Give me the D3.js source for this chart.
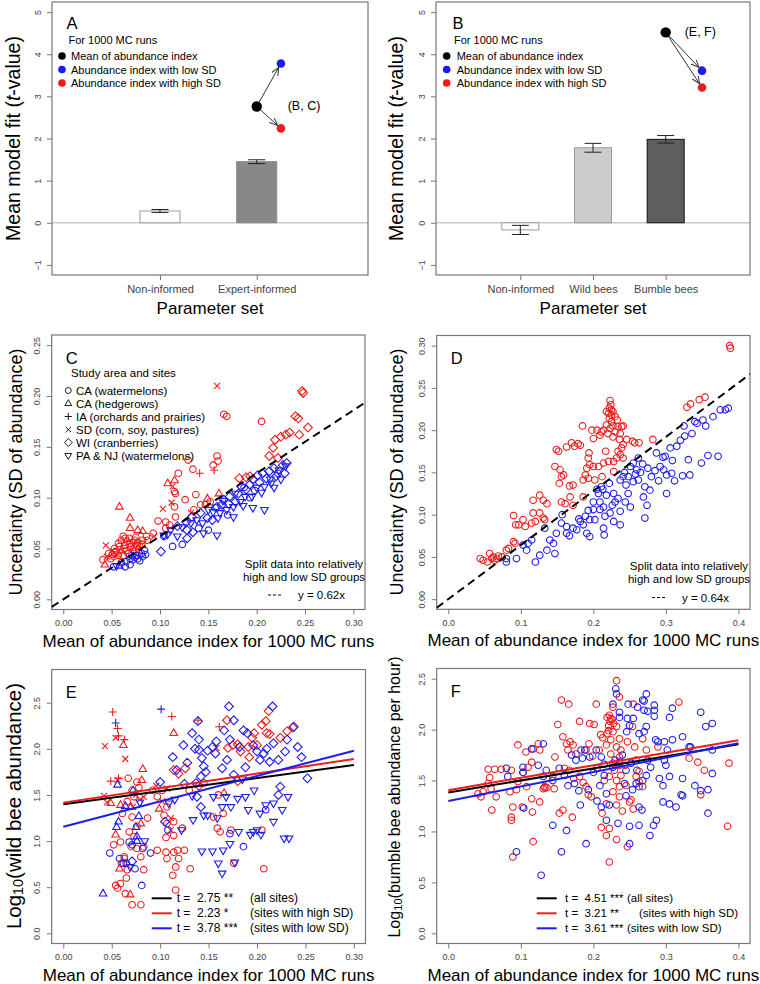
<!DOCTYPE html>
<html>
<head>
<meta charset="utf-8">
<script src="https://cdn.jsdelivr.net/npm/d3@7"></script>
<style>
  body { margin: 0; background: #fff; }
  svg { display: block; font-family: "Liberation Sans", Arial, sans-serif; }
</style>
</head>
<body>
<svg id="fig" width="760" height="984"></svg>
<script>
// ---- panel A / B : bar charts ----
const barsA = ['Non-informed', 'Expert-informed'];
const barMeanA = [0.28, 1.45];
const barErrA = [0.035, 0.045];
const barFillA = ['#ffffff', '#888888'];
const barsB = ['Non-informed', 'Wild bees', 'Bumble bees'];
const barMeanB = [-0.17, 1.78, 1.98];
const barErrB = [0.108, 0.105, 0.09];
const barFillB = ['#ffffff', '#cccccc', '#5e5e5e'];
// t-values: mean, low SD, high SD ; position in category steps
const tValA = [2.76, 3.78, 2.24];
const tPosA = [1, 1.25, 1.25];
const tValB = [4.52, 3.61, 3.21];
const tPosB = [2, 2.5, 2.5];
const legendAB = ['Mean of abundance index', 'Abundance index with low SD', 'Abundance index with high SD'];

// ---- panel C : wild bees, SD vs mean (x, y, symbol) ----
const cHigh = [
[0.159,0.210,'x'],[0.247,0.205,'d'],[0.248,0.203,'d'],[0.166,0.182,'o'],[0.169,0.180,'o'],[0.205,0.175,'o'],
[0.240,0.180,'d'],[0.243,0.178,'d'],[0.253,0.169,'d'],[0.244,0.162,'d'],[0.234,0.164,'d'],[0.230,0.162,'d'],
[0.225,0.160,'d'],[0.219,0.157,'d'],[0.217,0.149,'d'],[0.213,0.141,'d'],[0.222,0.139,'d'],[0.182,0.119,'d'],
[0.189,0.120,'d'],[0.193,0.121,'d'],[0.159,0.141,'o'],[0.160,0.136,'o'],[0.155,0.132,'o'],[0.129,0.137,'o'],
[0.134,0.128,'o'],[0.141,0.124,'p'],[0.156,0.127,'p'],[0.119,0.124,'o'],[0.108,0.114,'t'],[0.115,0.117,'t'],
[0.113,0.111,'x'],[0.115,0.106,'o'],[0.116,0.104,'o'],[0.112,0.095,'x'],[0.103,0.089,'x'],[0.137,0.103,'o'],
[0.126,0.098,'o'],[0.115,0.091,'o'],[0.116,0.081,'o'],[0.098,0.077,'o'],[0.106,0.076,'o'],[0.110,0.073,'o'],
[0.106,0.070,'o'],[0.058,0.091,'t'],[0.069,0.080,'t'],[0.069,0.070,'t'],[0.077,0.068,'t'],[0.082,0.067,'t'],
[0.062,0.062,'o'],[0.064,0.060,'o'],[0.074,0.058,'o'],[0.044,0.053,'x'],[0.093,0.065,'o'],[0.087,0.058,'o'],
[0.094,0.062,'x'],[0.142,0.093,'o'],[0.147,0.093,'o'],[0.149,0.099,'t'],[0.161,0.104,'t'],[0.152,0.096,'o'],
[0.135,0.088,'o'],[0.132,0.085,'x'],[0.082,0.058,'o'],[0.086,0.062,'o'],
[0.047,0.045,'o'],[0.050,0.048,'x'],[0.053,0.050,'o'],[0.055,0.047,'o'],[0.058,0.052,'o'],[0.060,0.048,'t'],
[0.064,0.053,'o'],[0.065,0.048,'o'],[0.069,0.055,'o'],[0.070,0.052,'o'],[0.072,0.056,'o'],[0.074,0.048,'o'],
[0.076,0.053,'o'],[0.077,0.056,'o'],[0.079,0.052,'o'],[0.081,0.054,'o'],[0.041,0.039,'o'],[0.043,0.034,'t'],
[0.045,0.042,'x'],[0.052,0.042,'o'],[0.057,0.043,'o'],[0.067,0.045,'o'],[0.062,0.043,'o'],[0.049,0.040,'o'],
[0.055,0.044,'x'],[0.060,0.058,'o'],[0.068,0.060,'o'],[0.072,0.050,'t'],[0.078,0.049,'o'],[0.063,0.050,'o'],
[0.057,0.055,'o'],[0.075,0.061,'o'],[0.066,0.057,'o'],[0.051,0.044,'o'],[0.053,0.046,'o']
];
const cLow = [
[0.052,0.032,'o'],[0.055,0.033,'v'],[0.060,0.036,'o'],[0.065,0.037,'o'],[0.069,0.040,'o'],[0.072,0.039,'o'],
[0.076,0.043,'o'],[0.077,0.040,'o'],[0.081,0.045,'o'],[0.082,0.042,'o'],[0.084,0.048,'o'],[0.074,0.041,'o'],
[0.069,0.034,'o'],[0.064,0.032,'o'],[0.058,0.033,'t'],[0.079,0.038,'o'],[0.085,0.044,'o'],[0.071,0.043,'o'],
[0.101,0.047,'d'],[0.104,0.062,'o'],[0.113,0.052,'o'],[0.123,0.054,'o'],[0.104,0.063,'v'],[0.108,0.064,'v'],
[0.111,0.068,'v'],[0.118,0.072,'d'],[0.123,0.071,'v'],[0.127,0.076,'d'],[0.128,0.068,'d'],[0.132,0.075,'v'],
[0.133,0.081,'d'],[0.138,0.078,'v'],[0.142,0.085,'d'],[0.144,0.075,'v'],[0.149,0.080,'d'],[0.150,0.088,'v'],
[0.154,0.078,'d'],[0.155,0.086,'v'],[0.159,0.091,'d'],[0.162,0.085,'v'],[0.164,0.093,'d'],[0.166,0.098,'d'],
[0.169,0.088,'v'],[0.171,0.094,'d'],[0.172,0.101,'d'],[0.176,0.091,'v'],[0.178,0.096,'d'],[0.181,0.104,'d'],
[0.183,0.096,'v'],[0.184,0.111,'d'],[0.188,0.101,'v'],[0.189,0.108,'d'],[0.193,0.113,'d'],[0.195,0.101,'v'],
[0.196,0.118,'d'],[0.200,0.110,'v'],[0.201,0.122,'d'],[0.203,0.115,'d'],[0.206,0.124,'d'],[0.208,0.111,'v'],
[0.210,0.119,'d'],[0.213,0.126,'d'],[0.215,0.114,'v'],[0.218,0.129,'d'],[0.220,0.121,'d'],[0.223,0.127,'v'],
[0.227,0.132,'d'],[0.229,0.124,'d'],[0.230,0.131,'v'],[0.231,0.134,'d'],[0.159,0.063,'v'],[0.196,0.090,'v'],
[0.208,0.088,'v'],[0.176,0.081,'v'],[0.145,0.065,'v'],[0.150,0.068,'o'],[0.160,0.080,'v'],[0.170,0.083,'o'],
[0.186,0.092,'v'],[0.193,0.100,'o'],[0.214,0.118,'v'],[0.225,0.118,'v'],[0.218,0.110,'v'],[0.140,0.070,'o'],
[0.134,0.066,'d'],[0.128,0.060,'d'],[0.118,0.062,'v'],[0.198,0.107,'o'],[0.205,0.105,'v'],[0.222,0.124,'o'],
[0.187,0.110,'o'],[0.178,0.104,'v'],[0.165,0.097,'v'],[0.157,0.090,'o']
];
const siteLabels = ['CA (watermelons)', 'CA (hedgerows)', 'IA (orchards and prairies)', 'SD (corn, soy, pastures)', 'WI (cranberries)', 'PA & NJ (watermelons)'];
const siteSymbols = ['o', 't', 'p', 'x', 'd', 'v'];

// ---- panel D : bumble bees, SD vs mean ----
const dHigh = [
[0.388,0.300],[0.389,0.297],[0.354,0.239],[0.346,0.236],[0.334,0.231],[0.329,0.227],[0.282,0.189],
[0.223,0.235],[0.224,0.230],[0.222,0.226],[0.225,0.224],[0.218,0.222],[0.227,0.222],[0.221,0.220],
[0.225,0.218],[0.230,0.216],[0.222,0.214],[0.233,0.212],[0.225,0.210],[0.218,0.206],[0.227,0.205],
[0.234,0.204],[0.239,0.204],[0.241,0.205],[0.223,0.202],[0.214,0.200],[0.230,0.198],[0.211,0.198],
[0.220,0.196],[0.237,0.196],[0.209,0.194],[0.227,0.192],[0.200,0.190],[0.205,0.200],[0.198,0.200],
[0.185,0.205],[0.236,0.189],[0.246,0.189],[0.254,0.187],[0.257,0.185],[0.263,0.185],[0.241,0.183],
[0.239,0.179],[0.234,0.175],[0.237,0.171],[0.232,0.167],[0.241,0.167],[0.228,0.163],[0.221,0.163],
[0.214,0.161],[0.207,0.157],[0.200,0.157],[0.195,0.159],[0.193,0.167],[0.194,0.173],[0.191,0.155],
[0.189,0.147],[0.193,0.143],[0.186,0.141],[0.202,0.141],[0.212,0.145],[0.228,0.151],[0.217,0.175],
[0.170,0.185],[0.174,0.181],[0.163,0.180],[0.179,0.184],[0.182,0.182],[0.149,0.177],[0.152,0.175],
[0.147,0.157],[0.154,0.153],[0.159,0.147],[0.156,0.145],[0.153,0.137],[0.167,0.134],[0.172,0.135],
[0.168,0.121],[0.186,0.121],[0.156,0.115],[0.161,0.113],[0.172,0.111],[0.126,0.123],[0.117,0.117],
[0.131,0.117],[0.136,0.113],[0.126,0.102],[0.117,0.102],[0.131,0.096],[0.120,0.092],[0.133,0.094],
[0.115,0.090],[0.090,0.099],[0.097,0.088],[0.093,0.088],[0.106,0.086],[0.103,0.094],[0.090,0.068],
[0.092,0.066],[0.083,0.060],[0.080,0.058],[0.048,0.046],[0.044,0.048],[0.057,0.054],[0.062,0.050],
[0.064,0.046],[0.054,0.044],[0.067,0.048],[0.069,0.051],[0.074,0.050],[0.060,0.048]
];
const dLow = [
[0.386,0.226],[0.382,0.224],[0.375,0.224],[0.365,0.216],[0.351,0.212],[0.343,0.208],[0.336,0.196],
[0.326,0.193],[0.320,0.188],[0.315,0.181],[0.306,0.179],[0.372,0.169],[0.331,0.165],[0.349,0.161],
[0.333,0.147],[0.308,0.149],[0.301,0.147],[0.297,0.153],[0.292,0.157],[0.299,0.169],[0.287,0.173],
[0.301,0.125],[0.278,0.129],[0.271,0.133],[0.269,0.121],[0.271,0.096],[0.274,0.111],[0.262,0.141],
[0.260,0.153],[0.255,0.161],[0.262,0.167],[0.251,0.157],[0.248,0.145],[0.241,0.145],[0.237,0.141],
[0.255,0.139],[0.248,0.125],[0.244,0.115],[0.251,0.109],[0.237,0.104],[0.234,0.119],[0.228,0.125],
[0.230,0.115],[0.226,0.111],[0.223,0.102],[0.228,0.092],[0.237,0.088],[0.216,0.098],[0.214,0.109],
[0.209,0.115],[0.207,0.125],[0.218,0.123],[0.211,0.133],[0.200,0.115],[0.200,0.106],[0.209,0.106],
[0.214,0.084],[0.202,0.094],[0.195,0.094],[0.189,0.098],[0.186,0.088],[0.182,0.092],[0.177,0.082],
[0.172,0.084],[0.163,0.086],[0.163,0.078],[0.167,0.075],[0.156,0.090],[0.149,0.078],[0.140,0.070],
[0.145,0.066],[0.147,0.054],[0.136,0.058],[0.126,0.052],[0.120,0.044],[0.110,0.066],[0.103,0.064],
[0.108,0.058],[0.094,0.048],[0.080,0.044],[0.080,0.048],[0.133,0.084],[0.195,0.074],[0.191,0.078],
[0.215,0.076],[0.265,0.150],[0.280,0.145],[0.290,0.140],[0.285,0.152],[0.275,0.155],[0.268,0.160],
[0.258,0.148],[0.245,0.135],[0.222,0.137],[0.213,0.130],[0.243,0.150],[0.312,0.140],[0.323,0.146],
[0.358,0.170],[0.309,0.164],[0.296,0.168],[0.325,0.205],[0.340,0.210],[0.355,0.205],[0.115,0.070],
[0.157,0.100],[0.180,0.095],[0.193,0.105],[0.205,0.130]
];

// ---- panel E : log10 wild bee abundance vs mean (x, y, symbol) ----
const eHigh = [
[0.051,2.40,'p'],[0.056,2.22,'p'],[0.057,2.14,'p'],[0.054,2.12,'x'],[0.063,2.10,'p'],[0.043,2.03,'x'],
[0.062,2.04,'t'],[0.064,1.89,'x'],[0.049,1.65,'p'],[0.057,1.68,'p'],[0.056,1.66,'x'],[0.082,1.78,'t'],
[0.042,1.49,'x'],[0.045,1.42,'x'],[0.049,1.41,'t'],[0.059,1.39,'t'],[0.067,1.68,'o'],[0.071,1.55,'o'],
[0.076,1.64,'o'],[0.081,1.66,'t'],[0.078,1.58,'o'],[0.083,1.48,'x'],[0.073,1.48,'o'],[0.066,1.43,'o'],
[0.070,1.37,'t'],[0.061,1.30,'o'],[0.071,1.26,'o'],[0.054,1.07,'t'],[0.059,0.99,'o'],[0.052,0.96,'o'],
[0.068,1.10,'o'],[0.073,1.05,'o'],[0.070,0.94,'o'],[0.076,0.92,'o'],[0.063,0.81,'o'],[0.060,0.76,'o'],
[0.058,0.70,'t'],[0.066,0.69,'o'],[0.065,0.60,'o'],[0.059,0.54,'o'],[0.054,0.52,'o'],[0.056,0.49,'o'],
[0.064,0.43,'o'],[0.069,0.42,'t'],[0.071,0.31,'o'],[0.080,0.31,'o'],[0.083,0.69,'o'],[0.080,0.83,'o'],
[0.083,0.94,'o'],[0.087,1.25,'o'],[0.080,1.19,'t'],[0.076,1.16,'o'],[0.063,0.83,'o'],[0.072,1.37,'x'],
[0.075,1.50,'x'],[0.079,1.45,'x'],[0.097,0.90,'o'],[0.106,0.88,'o'],[0.107,0.81,'o'],[0.114,0.88,'o'],
[0.118,0.90,'o'],[0.125,0.90,'o'],[0.119,0.81,'o'],[0.116,0.72,'o'],[0.113,0.63,'o'],[0.116,0.47,'o'],
[0.106,1.04,'o'],[0.114,1.06,'o'],[0.123,1.14,'o'],[0.131,0.70,'o'],[0.111,1.25,'x'],[0.104,1.28,'o'],
[0.107,1.37,'o'],[0.102,1.43,'x'],[0.097,1.48,'o'],[0.092,1.55,'o'],[0.099,1.35,'t'],[0.096,1.60,'x'],
[0.107,1.57,'x'],[0.102,1.55,'o'],[0.114,1.77,'d'],[0.119,1.73,'d'],[0.126,1.79,'d'],[0.139,2.31,'p'],
[0.114,2.17,'t'],[0.112,2.35,'p'],[0.114,1.21,'o'],[0.111,1.12,'x'],[0.107,1.19,'o'],[0.130,1.55,'o'],
[0.140,1.60,'d'],[0.145,1.63,'o'],[0.161,2.24,'p'],[0.169,2.31,'d'],[0.175,2.04,'d'],[0.183,1.97,'d'],
[0.191,2.02,'d'],[0.195,2.12,'d'],[0.197,2.17,'d'],[0.205,2.26,'d'],[0.209,2.30,'d'],[0.212,2.41,'d'],
[0.210,2.17,'d'],[0.213,2.16,'d'],[0.224,2.12,'d'],[0.231,2.19,'d'],[0.237,2.23,'d'],[0.192,1.91,'d'],
[0.155,1.26,'o'],[0.159,1.14,'o'],[0.162,1.10,'o'],[0.173,1.12,'o'],[0.176,0.76,'o'],[0.207,0.70,'o'],
[0.205,1.12,'o'],[0.166,1.52,'t'],[0.158,2.01,'x'],[0.180,1.65,'d'],[0.170,2.01,'d'],[0.200,2.04,'d'],
[0.180,2.05,'d'],[0.165,1.30,'o'],[0.160,1.50,'o']
];
const eLow = [
[0.054,2.28,'p'],[0.101,2.43,'p'],[0.041,0.43,'t'],[0.056,1.61,'t'],[0.057,1.21,'t'],[0.064,1.38,'t'],
[0.072,1.55,'t'],[0.048,0.87,'o'],[0.058,0.81,'o'],[0.068,0.99,'o'],[0.074,0.70,'o'],[0.081,0.52,'o'],
[0.065,0.76,'o'],[0.069,0.72,'v'],[0.076,1.00,'t'],[0.082,0.92,'o'],[0.075,1.15,'t'],[0.076,1.05,'t'],
[0.071,0.96,'o'],[0.078,1.27,'t'],[0.090,0.87,'o'],[0.062,0.76,'o'],[0.055,1.15,'t'],[0.071,0.78,'d'],
[0.079,1.42,'v'],[0.084,1.00,'v'],[0.100,1.64,'d'],[0.113,1.91,'d'],[0.117,1.77,'d'],[0.124,2.04,'d'],
[0.133,2.17,'d'],[0.140,2.10,'d'],[0.140,1.99,'d'],[0.143,1.90,'d'],[0.149,1.98,'d'],[0.145,1.81,'d'],
[0.142,1.70,'d'],[0.137,1.63,'d'],[0.138,1.48,'d'],[0.142,1.37,'d'],[0.109,1.41,'v'],[0.115,1.45,'v'],
[0.122,1.12,'v'],[0.133,1.49,'v'],[0.145,1.28,'v'],[0.143,0.89,'v'],[0.134,1.23,'v'],[0.108,1.12,'o'],
[0.105,1.21,'d'],[0.128,1.85,'d'],[0.136,2.00,'d'],[0.147,1.75,'d'],[0.139,2.30,'d'],[0.125,1.62,'d'],
[0.171,2.46,'d'],[0.176,2.31,'d'],[0.166,2.20,'d'],[0.172,2.10,'d'],[0.182,2.02,'d'],[0.186,2.20,'d'],
[0.190,2.17,'d'],[0.196,2.04,'d'],[0.200,1.97,'d'],[0.207,1.95,'d'],[0.217,2.06,'d'],[0.216,2.46,'d'],
[0.222,1.88,'d'],[0.229,1.97,'d'],[0.231,2.10,'d'],[0.238,2.24,'d'],[0.242,2.02,'d'],[0.246,1.91,'d'],
[0.252,1.68,'d'],[0.224,1.59,'d'],[0.222,1.50,'d'],[0.213,1.86,'d'],[0.164,1.79,'d'],[0.169,1.88,'d'],
[0.157,1.95,'d'],[0.154,2.02,'d'],[0.176,1.72,'d'],[0.158,2.08,'d'],[0.188,1.80,'d'],[0.203,1.88,'d'],
[0.210,2.00,'d'],[0.168,1.48,'v'],[0.173,1.37,'v'],[0.164,1.37,'v'],[0.159,1.25,'v'],[0.180,1.46,'v'],
[0.188,1.48,'v'],[0.197,1.55,'v'],[0.191,1.34,'v'],[0.200,1.12,'v'],[0.196,1.10,'v'],[0.193,1.07,'v'],
[0.204,1.07,'v'],[0.181,1.10,'v'],[0.172,0.97,'v'],[0.165,0.90,'v'],[0.160,0.76,'v'],[0.154,0.89,'v'],
[0.164,0.65,'v'],[0.149,1.28,'v'],[0.155,1.48,'v'],[0.209,1.39,'v'],[0.217,1.41,'v'],[0.226,1.34,'v'],
[0.217,1.21,'v'],[0.228,1.03,'v'],[0.233,1.03,'v'],[0.232,1.48,'v'],[0.186,0.94,'o'],[0.209,1.34,'o'],
[0.203,1.30,'v'],[0.177,0.77,'v'],[0.185,1.67,'v'],[0.172,1.08,'o']
];
const regLabelE = ['t =  2.75 **', 't =  2.23 *', 't =  3.78 ***'];
const regInterceptE = [1.400, 1.417, 1.156];
const regSlopeE = [1.417, 1.577, 2.747];

// ---- panel F : log10 bumble bee abundance per hour vs mean ----
const fHigh = [
[0.232,2.48],[0.236,2.32],[0.227,2.22],[0.204,2.25],[0.255,2.25],[0.318,2.27],[0.166,2.25],[0.156,2.29],
[0.181,2.08],[0.195,2.06],[0.201,2.05],[0.151,2.05],[0.222,2.14],[0.224,2.11],[0.223,2.08],[0.221,2.04],
[0.221,1.99],[0.219,1.96],[0.227,1.98],[0.232,2.03],[0.213,1.92],[0.224,1.90],[0.236,1.91],[0.247,1.88],
[0.218,1.85],[0.232,1.83],[0.238,1.80],[0.257,1.83],[0.208,1.80],[0.199,1.74],[0.224,1.76],[0.236,1.73],
[0.227,1.67],[0.236,1.65],[0.229,1.60],[0.222,1.54],[0.238,1.55],[0.232,1.50],[0.236,1.44],[0.227,1.39],
[0.236,1.34],[0.232,1.26],[0.218,1.27],[0.212,1.18],[0.211,1.04],[0.222,1.03],[0.218,0.96],[0.232,0.92],
[0.222,0.70],[0.247,0.85],[0.252,1.31],[0.255,1.22],[0.259,1.54],[0.263,1.49],[0.268,1.44],[0.263,1.59],
[0.254,2.03],[0.055,1.61],[0.064,1.61],[0.073,1.61],[0.087,1.60],[0.096,1.85],[0.107,1.78],[0.117,1.81],
[0.124,1.86],[0.126,1.80],[0.115,1.68],[0.110,1.63],[0.103,1.58],[0.096,1.49],[0.108,1.44],[0.094,1.41],
[0.085,1.39],[0.057,1.53],[0.055,1.47],[0.059,1.42],[0.045,1.34],[0.041,1.37],[0.048,1.39],[0.066,1.34],
[0.060,1.21],[0.089,1.24],[0.087,1.14],[0.087,1.11],[0.102,1.24],[0.115,1.32],[0.116,1.19],[0.126,1.29],
[0.131,1.42],[0.133,1.44],[0.146,1.42],[0.144,1.54],[0.147,1.73],[0.158,1.93],[0.163,1.86],[0.168,1.88],
[0.172,1.85],[0.165,1.80],[0.176,1.76],[0.160,1.62],[0.167,1.60],[0.173,1.52],[0.181,1.54],[0.186,1.48],
[0.190,1.44],[0.197,1.34],[0.153,1.18],[0.158,1.21],[0.171,1.14],[0.117,0.90],[0.089,0.75],[0.193,1.36],
[0.190,1.80],[0.194,1.86],[0.385,1.05],[0.387,1.67],[0.348,1.36],[0.353,1.60],[0.332,1.72],[0.344,1.68],
[0.259,1.70],[0.273,1.80],[0.289,1.83],[0.268,1.91],[0.250,1.29],[0.226,2.10],[0.219,2.12],[0.228,2.06],
[0.210,1.95],[0.244,1.65],[0.205,1.62],[0.245,1.45],[0.215,1.50],[0.240,1.20],[0.133,1.43],[0.136,1.43]
];
const fLow = [
[0.231,2.40],[0.232,2.35],[0.227,2.25],[0.236,2.17],[0.236,2.12],[0.273,2.35],[0.268,2.29],[0.270,2.28],
[0.261,2.22],[0.255,2.11],[0.248,2.25],[0.270,2.19],[0.275,2.18],[0.284,2.24],[0.284,2.19],[0.309,2.21],
[0.305,2.12],[0.284,2.13],[0.247,2.11],[0.250,2.04],[0.246,1.98],[0.263,1.96],[0.270,1.98],[0.273,2.03],
[0.348,2.17],[0.355,2.03],[0.364,2.06],[0.364,1.80],[0.286,1.90],[0.289,1.88],[0.298,1.88],[0.302,1.80],
[0.309,1.90],[0.323,1.93],[0.332,1.83],[0.298,1.70],[0.300,1.65],[0.279,1.63],[0.273,1.55],[0.268,1.50],
[0.291,1.52],[0.259,1.47],[0.263,1.44],[0.254,1.41],[0.243,1.47],[0.245,1.60],[0.252,1.67],[0.236,1.68],
[0.227,1.63],[0.211,1.73],[0.204,1.80],[0.195,1.73],[0.188,1.80],[0.183,1.80],[0.176,1.70],[0.153,1.62],
[0.144,1.50],[0.131,1.54],[0.124,1.65],[0.131,1.86],[0.115,1.81],[0.103,1.63],[0.103,1.58],[0.080,1.62],
[0.082,1.54],[0.104,1.23],[0.174,1.47],[0.182,1.26],[0.193,1.41],[0.209,1.45],[0.218,1.37],[0.222,1.26],
[0.211,1.24],[0.218,1.11],[0.163,1.01],[0.144,1.06],[0.190,0.88],[0.156,0.80],[0.094,0.80],[0.128,0.57],
[0.234,1.08],[0.250,1.05],[0.250,0.88],[0.263,1.06],[0.278,0.96],[0.283,1.06],[0.287,1.11],[0.263,1.24],
[0.267,1.21],[0.296,1.29],[0.305,1.27],[0.321,1.36],[0.323,1.35],[0.314,1.24],[0.296,1.45],[0.305,1.54],
[0.340,1.45],[0.348,1.40],[0.358,1.41],[0.358,1.18],[0.364,1.57],[0.323,1.52],[0.334,1.83],[0.170,1.75],
[0.165,1.45],[0.185,1.72],[0.200,1.58],[0.215,1.55],[0.230,1.70],[0.240,1.75],[0.260,1.60],[0.275,1.70],
[0.245,1.35],[0.205,1.30],[0.180,1.40],[0.160,1.55],[0.135,1.60],[0.215,1.66]
];
const regLabelF = ['t =  4.51 ***', 't =  3.21 **', 't =  3.61 ***'];
const regInterceptF = [1.382, 1.405, 1.300];
const regSlopeF = [1.185, 1.225, 1.415];
const regNotes = ['(all sites)', '(sites with high SD)', '(sites with low SD)'];

const RED = '#ee1c1c';
const BLUE = '#1c1cee';
const FONT = '"Liberation Sans", Arial, sans-serif';
const regColors = ['#000', RED, BLUE];

const svg = d3.select('#fig');
svg.append('rect').attr('width', 760).attr('height', 984).attr('fill', '#fff');

const defs = svg.append('defs');
defs.append('marker')
  .attr('id', 'arrow')
  .attr('markerUnits', 'userSpaceOnUse')
  .attr('markerWidth', 10).attr('markerHeight', 10)
  .attr('refX', 8).attr('refY', 3.5)
  .attr('orient', 'auto')
  .append('path')
  .attr('d', 'M0,0L8,3.5L0,7')
  .attr('fill', 'none').attr('stroke', '#333').attr('stroke-width', 1);

// R style axis limits: 4% padding each side
const rLim = (lo, hi) => [lo - 0.04 * (hi - lo), lo + 1.04 * (hi - lo)];

const shapePath = s => {
  switch (s) {
    case 'o': return 'M3.3,0A3.3,3.3 0 1,1 -3.3,0A3.3,3.3 0 1,1 3.3,0Z';
    case 't': return 'M0,-4.3L3.8,2.3L-3.8,2.3Z';
    case 'v': return 'M0,4.3L3.8,-2.3L-3.8,-2.3Z';
    case 'p': return 'M-4,0H4M0,-4V4';
    case 'x': return 'M-3,-3L3,3M-3,3L3,-3';
    case 'd': return 'M0,-4.4L4.4,0L0,4.4L-4.4,0Z';
  }
};

const frame = (g, box) => {
  g.append('rect')
    .attr('x', box.l).attr('y', box.t)
    .attr('width', box.r - box.l).attr('height', box.b - box.t)
    .attr('fill', 'none').attr('stroke', '#777').attr('stroke-width', 1.2);
};

const styleAxis = (a, size) => {
  a.attr('font-family', FONT).attr('font-size', size);
  a.select('.domain').remove();
  a.selectAll('line').attr('stroke', '#777').attr('stroke-width', 1);
  a.selectAll('text').attr('fill', '#444');
};

const yAxis = (g, box, y, ticks, fmt) => {
  const a = g.append('g')
    .attr('transform', `translate(${box.l},0)`)
    .call(d3.axisLeft(y).tickValues(ticks).tickFormat(fmt).tickSize(5));
  styleAxis(a, 9);
  a.selectAll('text')
    .attr('x', null).attr('dy', null)
    .attr('transform', 'translate(-14.5,0) rotate(-90)')
    .attr('text-anchor', 'middle')
    .attr('dominant-baseline', 'central');
};

const xAxis = (g, box, x, ticks, fmt, size) => {
  const a = g.append('g')
    .attr('transform', `translate(0,${box.b})`)
    .call(d3.axisBottom(x).tickValues(ticks).tickFormat(fmt).tickSize(5).tickPadding(5));
  styleAxis(a, size);
};

const xTitle = (g, box, text, dy) => {
  g.append('text')
    .attr('x', (box.l + box.r) / 2).attr('y', box.b + dy)
    .attr('text-anchor', 'middle').attr('dominant-baseline', 'central')
    .style('font-size', '17px')
    .text(text);
};

// parts: [text, kind] with kind '' | 'sub' | 'it'
const yTitle = (g, cx, cy, parts, size) => {
  const t = g.append('text')
    .attr('transform', `translate(${cx},${cy}) rotate(-90)`)
    .attr('text-anchor', 'middle').attr('dominant-baseline', 'central')
    .style('font-size', size + 'px');
  let shifted = false;
  parts.forEach(([s, kind]) => {
    const sp = t.append('tspan').text(s);
    if (kind === 'sub') {
      sp.style('font-size', (size * 0.7) + 'px').attr('dy', size * 0.25);
      shifted = true;
    } else {
      if (shifted) { sp.attr('dy', -size * 0.25); shifted = false; }
      if (kind === 'it') sp.style('font-style', 'italic');
    }
  });
};

const letter = (g, x, y, s) => {
  g.append('text').attr('x', x).attr('y', y).style('font-size', '16.5px').text(s);
};

// ---------- bar panels ----------
const barPanel = (cfg) => {
  const { box, cats, means, errs, fills, strokes, barW, pad, range, tVals, tPos, lab, labDx, dotX, txtX, forX, letterX, letterS, titleX } = cfg;
  const g = svg.append('g');
  const y = d3.scaleLinear().domain(rLim(-1, 5)).range([box.b, box.t]);
  const x = d3.scalePoint().domain(cats).range(range).padding(pad);
  const step = x.step();

  g.append('line')
    .attr('x1', box.l).attr('x2', box.r)
    .attr('y1', y(0)).attr('y2', y(0))
    .attr('stroke', '#c8c8c8').attr('stroke-width', 1.5);

  g.selectAll('rect.bar').data(cats).join('rect')
    .attr('class', 'bar')
    .attr('x', d => x(d) - barW / 2)
    .attr('width', barW)
    .attr('y', (d, i) => y(Math.max(0, means[i])))
    .attr('height', (d, i) => Math.abs(y(means[i]) - y(0)))
    .attr('fill', (d, i) => fills[i])
    .attr('stroke', (d, i) => strokes[i]);

  const eb = g.selectAll('g.err').data(cats).join('g').attr('class', 'err')
    .attr('stroke', '#222').attr('stroke-width', 1);
  eb.append('line')
    .attr('x1', d => x(d)).attr('x2', d => x(d))
    .attr('y1', (d, i) => y(means[i] - errs[i])).attr('y2', (d, i) => y(means[i] + errs[i]));
  [-1, 1].forEach(sgn => {
    eb.append('line')
      .attr('x1', d => x(d) - 8.5).attr('x2', d => x(d) + 8.5)
      .attr('y1', (d, i) => y(means[i] + sgn * errs[i])).attr('y2', (d, i) => y(means[i] + sgn * errs[i]));
  });

  const px = i => x(cats[0]) + tPos[i] * step;
  // arrows from mean to low / high SD points
  [1, 2].forEach(i => {
    const x0 = px(0), y0 = y(tVals[0]), x1 = px(i), y1 = y(tVals[i]);
    const len = Math.hypot(x1 - x0, y1 - y0);
    const k = (len - 4.5) / len;
    g.append('line')
      .attr('x1', x0).attr('y1', y0)
      .attr('x2', x0 + (x1 - x0) * k).attr('y2', y0 + (y1 - y0) * k)
      .attr('stroke', '#333').attr('stroke-width', 1)
      .attr('marker-end', 'url(#arrow)');
  });
  const ptColors = ['#000', BLUE, RED];
  g.selectAll('circle.t').data(tVals).join('circle')
    .attr('class', 't')
    .attr('cx', (d, i) => px(i)).attr('cy', d => y(d))
    .attr('r', (d, i) => i === 0 ? 5.2 : 4.3)
    .attr('fill', (d, i) => ptColors[i]);
  g.append('text')
    .attr('x', px(0) + labDx).attr('y', y(tVals[0]))
    .attr('dominant-baseline', 'central')
    .style('font-size', '12.5px').text(lab);

  frame(g, box);
  yAxis(g, box, y, d3.range(-1, 6), d3.format('d'));
  xAxis(g, box, x, cats, d => d, 11);
  xTitle(g, box, 'Parameter set', 33);
  yTitle(g, titleX, (box.t + box.b) / 2, [['Mean model fit ('], ['t', 'it'], ['-value)']], 19.5);

  letter(g, letterX, box.t + 27, letterS);
  g.append('text').attr('x', forX).attr('y', 39.5)
    .attr('dominant-baseline', 'central').style('font-size', '11px').text('For 1000 MC runs');
  legendAB.forEach((s, i) => {
    const yy = 56 + i * 13.5;
    g.append('circle').attr('cx', dotX).attr('cy', yy).attr('r', 3.8).attr('fill', ptColors[i]);
    g.append('text').attr('x', txtX).attr('y', yy)
      .attr('dominant-baseline', 'central').style('font-size', '11px').text(s);
  });
};

barPanel({
  box: { l: 52, r: 368, t: 2, b: 275 },
  cats: barsA, means: barMeanA, errs: barErrA, fills: barFillA,
  strokes: ['#9a9a9a', '#888888'], barW: 40, pad: 1.134, range: [50.3, 366.4],
  tVals: tValA, tPos: tPosA, lab: '(B, C)', labDx: 31,
  dotX: 62, txtX: 71, forX: 68.5, letterX: 66.5, letterS: 'A', titleX: 13
});
barPanel({
  box: { l: 436, r: 750, t: 2, b: 275 },
  cats: barsB, means: barMeanB, errs: barErrB, fills: barFillB,
  strokes: ['#9a9a9a', '#999999', '#111111'], barW: 37, pad: 1.16, range: [436, 750],
  tVals: tValB, tPos: tPosB, lab: '(E, F)', labDx: 19,
  dotX: 446.7, txtX: 456.7, forX: 454, letterX: 452.5, letterS: 'B', titleX: 396
});

// ---------- scatter panels ----------
let clipId = 0;
const scatterPanel = (cfg) => {
  const { box, xlim, ylim, xTicks, xFmt, yTicks, yFmt, high, low, titleParts, titleSize, titleX, titleY, letterS } = cfg;
  const g = svg.append('g');
  const x = d3.scaleLinear().domain(rLim(...xlim)).range([box.l, box.r]);
  const y = d3.scaleLinear().domain(rLim(...ylim)).range([box.b, box.t]);
  const id = 'clip' + (clipId++);
  defs.append('clipPath').attr('id', id).append('rect')
    .attr('x', box.l).attr('y', box.t).attr('width', box.r - box.l).attr('height', box.b - box.t);

  const pts = g.append('g').attr('fill', 'none').attr('stroke-width', 1.1);
  const draw = (data, color) => {
    pts.append('g').attr('stroke', color)
      .selectAll('path').data(data).join('path')
      .attr('transform', d => `translate(${x(d[0])},${y(d[1])})`)
      .attr('d', d => shapePath(d[2] || 'o'));
  };
  draw(high, RED);
  draw(low, BLUE);

  frame(g, box);
  yAxis(g, box, y, yTicks, yFmt);
  xAxis(g, box, x, xTicks, xFmt, 9);
  xTitle(g, box, 'Mean of abundance index for 1000 MC runs', 31.5);
  yTitle(g, titleX, titleY, titleParts, titleSize);
  letter(g, box.l + 14, box.t + 28.5, letterS);
  return { g, x, y, clip: `url(#${id})` };
};

const splitLegend = (g, cx, y0, lineX, slope) => {
  ['Split data into relatively', 'high and low SD groups'].forEach((s, i) => {
    g.append('text').attr('x', cx).attr('y', y0 + i * 13.3)
      .attr('text-anchor', 'middle').attr('dominant-baseline', 'central')
      .style('font-size', '11.5px').text(s);
  });
  const yl = y0 + 31.5;
  g.append('line').attr('x1', lineX).attr('x2', lineX + 15).attr('y1', yl).attr('y2', yl)
    .attr('stroke', '#000').attr('stroke-width', 1).attr('stroke-dasharray', '3,2');
  g.append('text').attr('x', lineX + 30).attr('y', yl)
    .attr('dominant-baseline', 'central').style('font-size', '11.5px').text(`y = ${slope}x`);
};

const ratioLine = (p, slope) => {
  const [x0, x1] = p.x.domain();
  p.g.append('line')
    .attr('clip-path', p.clip)
    .attr('x1', p.x(x0)).attr('y1', p.y(slope * x0))
    .attr('x2', p.x(x1)).attr('y2', p.y(slope * x1))
    .attr('stroke', '#000').attr('stroke-width', 2).attr('stroke-dasharray', '8,5');
};

// C
const pC = scatterPanel({
  box: { l: 51.7, r: 365, t: 335, b: 609.5 }, xlim: [0, 0.3], ylim: [0, 0.25],
  xTicks: d3.range(0, 0.31, 0.05), xFmt: d3.format('.2f'),
  yTicks: d3.range(0, 0.26, 0.05), yFmt: d3.format('.2f'),
  high: cHigh, low: cLow,
  titleParts: [['Uncertainty (SD of abundance)']], titleSize: 18, titleX: 15.5, titleY: 472, letterS: 'C'
});
ratioLine(pC, 0.62);
pC.g.append('text').attr('x', 71).attr('y', 373.3)
  .attr('dominant-baseline', 'central').style('font-size', '11.5px').text('Study area and sites');
siteLabels.forEach((s, i) => {
  const yy = 390.5 + i * 13;
  pC.g.append('path').attr('transform', `translate(68.3,${yy}) scale(0.9)`)
    .attr('d', shapePath(siteSymbols[i])).attr('fill', 'none').attr('stroke', '#000').attr('stroke-width', 1);
  pC.g.append('text').attr('x', 76).attr('y', yy)
    .attr('dominant-baseline', 'central').style('font-size', '11.5px').text(s);
});
splitLegend(pC.g, 304, 563.5, 268, 0.62);

// D
const pD = scatterPanel({
  box: { l: 436.7, r: 750, t: 335.5, b: 609.3 }, xlim: [0, 0.4], ylim: [0, 0.3],
  xTicks: d3.range(0, 0.41, 0.1), xFmt: d3.format('.1f'),
  yTicks: d3.range(0, 0.31, 0.05), yFmt: d3.format('.2f'),
  high: dHigh, low: dLow,
  titleParts: [['Uncertainty (SD of abundance)']], titleSize: 18, titleX: 397, titleY: 472, letterS: 'D'
});
ratioLine(pD, 0.64);
splitLegend(pD.g, 689, 566, 652, 0.64);

// regression lines and their legend
const regPanel = (p, xMax, icpt, slope, labels, lx, tx, nx, fs) => {
  icpt.forEach((a, i) => {
    p.g.append('line')
      .attr('x1', p.x(0)).attr('y1', p.y(a))
      .attr('x2', p.x(xMax)).attr('y2', p.y(a + slope[i] * xMax))
      .attr('stroke', regColors[i]).attr('stroke-width', 2);
  });
  labels.forEach((s, i) => {
    const yy = 898.3 + i * 15;
    p.g.append('line').attr('x1', lx).attr('x2', lx + 20).attr('y1', yy).attr('y2', yy)
      .attr('stroke', regColors[i]).attr('stroke-width', 2);
    p.g.append('text').attr('x', tx).attr('y', yy)
      .attr('dominant-baseline', 'central').style('font-size', fs + 'px')
      .style('white-space', 'pre').text(s);
    p.g.append('text').attr('x', nx[i]).attr('y', yy)
      .attr('dominant-baseline', 'central').style('font-size', fs + 'px').text(regNotes[i]);
  });
};

// E
const pE = scatterPanel({
  box: { l: 51.7, r: 365.5, t: 669.5, b: 943.5 }, xlim: [0, 0.3], ylim: [0, 2.75],
  xTicks: d3.range(0, 0.31, 0.05), xFmt: d3.format('.2f'),
  yTicks: d3.range(0, 2.51, 0.5), yFmt: d3.format('.1f'),
  high: eHigh, low: eLow,
  titleParts: [['Log'], ['10', 'sub'], ['(wild bee abundance)']], titleSize: 20.5, titleX: 12.5, titleY: 806, letterS: 'E'
});
regPanel(pE, 0.3, regInterceptE, regSlopeE, regLabelE, 151.7, 176.7, [250, 250, 250], 12);

// F
const pF = scatterPanel({
  box: { l: 436.7, r: 750, t: 668.5, b: 943.5 }, xlim: [0, 0.4], ylim: [0, 2.5],
  xTicks: d3.range(0, 0.41, 0.1), xFmt: d3.format('.1f'),
  yTicks: d3.range(0, 2.51, 0.5), yFmt: d3.format('.1f'),
  high: fHigh, low: fLow,
  titleParts: [['Log'], ['10', 'sub'], ['(bumble bee abundance per hour)']], titleSize: 16, titleX: 393.5, titleY: 797, letterS: 'F'
});
regPanel(pF, 0.4, regInterceptF, regSlopeF, regLabelF, 536.7, 565, [627, 639, 627], 11.5);
</script>
</body>
</html>
